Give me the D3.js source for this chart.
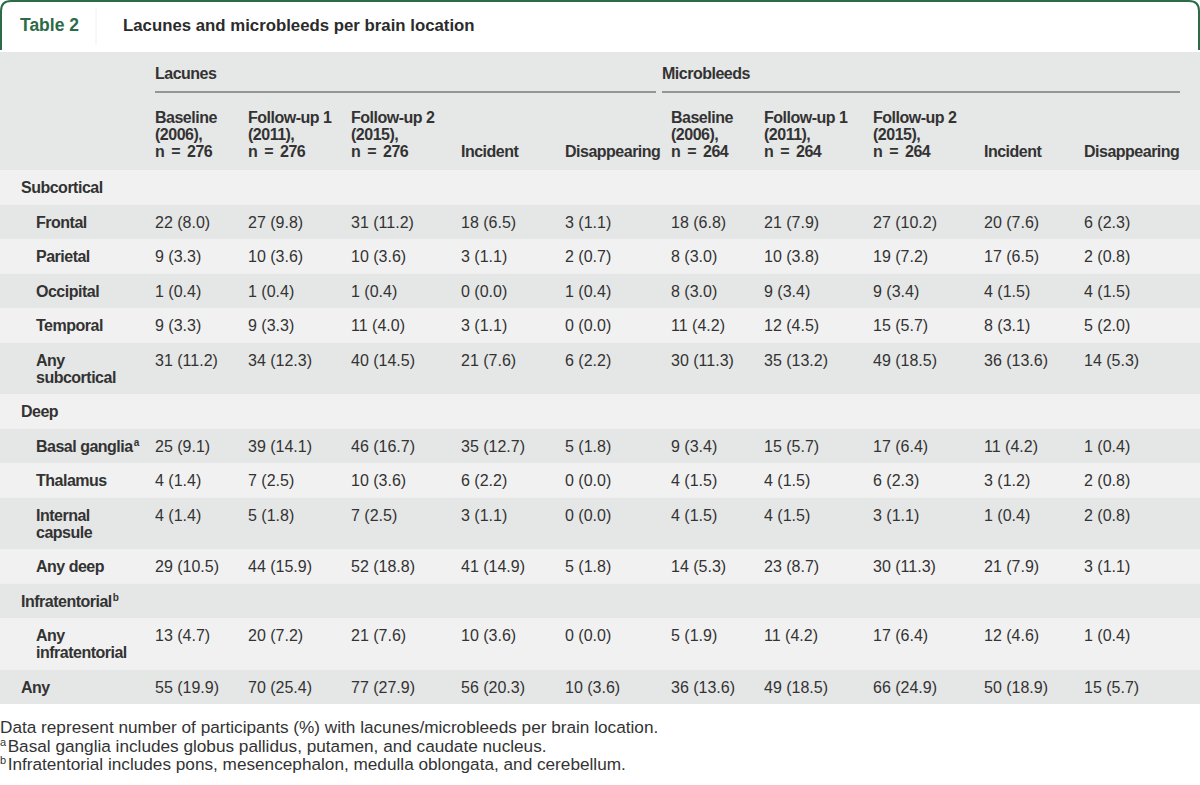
<!DOCTYPE html>
<html><head><meta charset="utf-8">
<script src="https://cdn.jsdelivr.net/npm/d3@7"></script>
<style>
html,body{margin:0;padding:0;background:#fff;}
svg{display:block;font-family:"Liberation Sans",Arial,sans-serif;}
</style></head>
<body><svg id="c" width="1200" height="785"></svg>
<script>
const tableNumber = "Table 2";
const title = "Lacunes and microbleeds per brain location";
const groups = ["Lacunes", "Microbleeds"];
const columnHeaders = [
  ["Baseline","(2006),","n = 276"],["Follow-up 1","(2011),","n = 276"],["Follow-up 2","(2015),","n = 276"],["Incident"],["Disappearing"],
  ["Baseline","(2006),","n = 264"],["Follow-up 1","(2011),","n = 264"],["Follow-up 2","(2015),","n = 264"],["Incident"],["Disappearing"]
];
// row labels: [lines, level (0 = section, 1 = item), superscript]
const rowLabels = [
  [["Subcortical"],0,""],
  [["Frontal"],1,""],
  [["Parietal"],1,""],
  [["Occipital"],1,""],
  [["Temporal"],1,""],
  [["Any","subcortical"],1,""],
  [["Deep"],0,""],
  [["Basal ganglia"],1,"a"],
  [["Thalamus"],1,""],
  [["Internal","capsule"],1,""],
  [["Any deep"],1,""],
  [["Infratentorial"],0,"b"],
  [["Any","infratentorial"],1,""],
  [["Any"],0,""]
];
const rowValues = [
  [],
  ["22 (8.0)","27 (9.8)","31 (11.2)","18 (6.5)","3 (1.1)","18 (6.8)","21 (7.9)","27 (10.2)","20 (7.6)","6 (2.3)"],
  ["9 (3.3)","10 (3.6)","10 (3.6)","3 (1.1)","2 (0.7)","8 (3.0)","10 (3.8)","19 (7.2)","17 (6.5)","2 (0.8)"],
  ["1 (0.4)","1 (0.4)","1 (0.4)","0 (0.0)","1 (0.4)","8 (3.0)","9 (3.4)","9 (3.4)","4 (1.5)","4 (1.5)"],
  ["9 (3.3)","9 (3.3)","11 (4.0)","3 (1.1)","0 (0.0)","11 (4.2)","12 (4.5)","15 (5.7)","8 (3.1)","5 (2.0)"],
  ["31 (11.2)","34 (12.3)","40 (14.5)","21 (7.6)","6 (2.2)","30 (11.3)","35 (13.2)","49 (18.5)","36 (13.6)","14 (5.3)"],
  [],
  ["25 (9.1)","39 (14.1)","46 (16.7)","35 (12.7)","5 (1.8)","9 (3.4)","15 (5.7)","17 (6.4)","11 (4.2)","1 (0.4)"],
  ["4 (1.4)","7 (2.5)","10 (3.6)","6 (2.2)","0 (0.0)","4 (1.5)","4 (1.5)","6 (2.3)","3 (1.2)","2 (0.8)"],
  ["4 (1.4)","5 (1.8)","7 (2.5)","3 (1.1)","0 (0.0)","4 (1.5)","4 (1.5)","3 (1.1)","1 (0.4)","2 (0.8)"],
  ["29 (10.5)","44 (15.9)","52 (18.8)","41 (14.9)","5 (1.8)","14 (5.3)","23 (8.7)","30 (11.3)","21 (7.9)","3 (1.1)"],
  [],
  ["13 (4.7)","20 (7.2)","21 (7.6)","10 (3.6)","0 (0.0)","5 (1.9)","11 (4.2)","17 (6.4)","12 (4.6)","1 (0.4)"],
  ["55 (19.9)","70 (25.4)","77 (27.9)","56 (20.3)","10 (3.6)","36 (13.6)","49 (18.5)","66 (24.9)","50 (18.9)","15 (5.7)"]
];
const footnotes = [
  ["","Data represent number of participants (%) with lacunes/microbleeds per brain location."],
  ["a","Basal ganglia includes globus pallidus, putamen, and caudate nucleus."],
  ["b","Infratentorial includes pons, mesencephalon, medulla oblongata, and cerebellum."]
];

// ---- layout ----
const svg = d3.select("#c");
const W = 1200;
const green = "#2d6a47";
const txt = "#333333";
const FS = 16;
const boldLS = -0.5;
const colX = [155,248,351,461,565,671,764,873,984,1084];
const groupSpan = [[155,656],[662,1180]];
const headerTop = 52, headerBottom = 170;
const lineH = 17;
const singleH = 34.5, doubleH = 51.5;

// top frame
const fr = svg.append("g");
fr.append("path")
  .attr("d", `M1,50 L1,11 Q1,1 11,1 L${W-11},1 Q${W-1},1 ${W-1},11 L${W-1},50`)
  .attr("fill","none").attr("stroke",green).attr("stroke-width",2);
fr.append("line").attr("x1",96).attr("x2",96).attr("y1",8).attr("y2",45)
  .attr("stroke","#f0f0f0").attr("stroke-width",1);
fr.append("text").attr("x",20).attr("y",31).attr("fill",green)
  .attr("font-weight","bold").attr("font-size",17.5).text(tableNumber);
fr.append("text").attr("x",123).attr("y",31).attr("fill","#2b2b2b")
  .attr("font-weight","bold").attr("font-size",16.8).text(title);

// header
svg.append("rect").attr("x",0).attr("y",headerTop).attr("width",W).attr("height",headerBottom-headerTop).attr("fill","#e6e7e7");
const gh = svg.append("g");
groups.forEach((g,i)=>{
  gh.append("text").attr("x",groupSpan[i][0]).attr("y",79).attr("fill",txt)
    .attr("font-weight","bold").attr("font-size",FS).attr("letter-spacing",boldLS).text(g);
  gh.append("line").attr("x1",groupSpan[i][0]).attr("x2",groupSpan[i][1])
    .attr("y1",92).attr("y2",92).attr("stroke","#7a7a7a").attr("stroke-width",1.6);
});
const hdrBase = [123,140,157];
columnHeaders.forEach((lines,ci)=>{
  const off = 3 - lines.length;
  lines.forEach((l,li)=>{
    gh.append("text").attr("x",colX[ci]).attr("y",hdrBase[li+off]).attr("fill",txt)
      .attr("font-weight","bold").attr("font-size",FS).attr("letter-spacing",boldLS)
      .attr("word-spacing", l.startsWith("n =") ? 3 : 0).text(l);
  });
});

// body rows
let y = headerBottom;
const rows = rowLabels.map((r,i)=>{
  const h = r[0].length>1 ? doubleH : singleH;
  const o = {label:r[0], level:r[1], sup:r[2], vals:rowValues[i], y0:y, h:h, i:i};
  y += h;
  return o;
});
const body = svg.append("g");
const rg = body.selectAll("g.row").data(rows).join("g").attr("class","row")
  .attr("transform",d=>`translate(0,${d.y0})`);
rg.append("rect").attr("x",0).attr("y",0).attr("width",W).attr("height",d=>d.h)
  .attr("fill",d=>d.i%2===0 ? "#f1f1f1" : "#e5e6e6");
rg.each(function(d){
  const g = d3.select(this);
  const x = d.level===0 ? 21 : 36;
  d.label.forEach((l,li)=>{
    const t = g.append("text").attr("x",x).attr("y",23+li*lineH).attr("fill",txt)
      .attr("font-weight","bold").attr("font-size",FS).attr("letter-spacing",boldLS).text(l);
    if (d.sup && li===d.label.length-1){
      t.append("tspan").attr("font-size",10).attr("dy",-6).attr("dx",1).text(d.sup);
    }
  });
  g.selectAll("text.v").data(d.vals).join("text").attr("class","v")
    .attr("x",(v,ci)=>colX[ci]).attr("y",23).attr("fill",txt)
    .attr("font-size",FS).text(v=>v);
});

// footnotes
const fg = svg.append("g");
footnotes.forEach((f,i)=>{
  const t = fg.append("text").attr("x",0).attr("y",733+i*18.5).attr("fill",txt).attr("font-size",17.2);
  if (f[0]) t.append("tspan").attr("font-size",11).attr("dy",-6).text(f[0]);
  t.append("tspan").attr("dy",f[0]?6:0).attr("dx",f[0]?1.5:0).text(f[1]);
});
</script></body></html>
